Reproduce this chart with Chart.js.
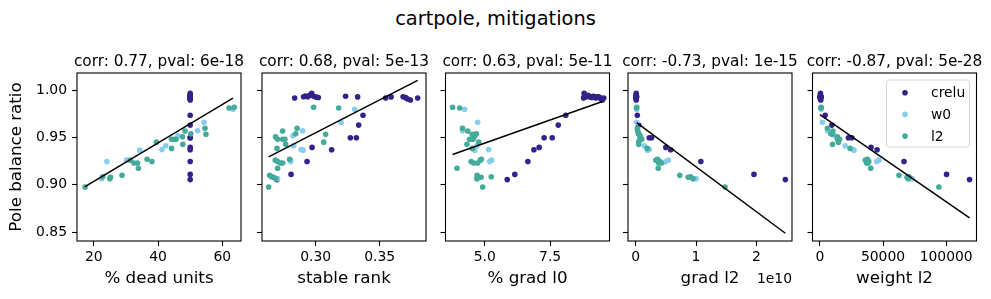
<!DOCTYPE html>
<html>
<head>
<meta charset="utf-8">
<script src="https://cdn.jsdelivr.net/npm/chart.js@4.4.1/dist/chart.umd.min.js"></script>
<style>
  body { margin: 0; background: #fff; }
  #wrap { position: relative; width: 991px; height: 299px; }
  #wrap canvas { position: absolute; left: 0; top: 0; }
  #suptitle {
    position: absolute; left: 0; top: 9px; width: 991px; text-align: center;
    font: 19.4px "DejaVu Sans"; line-height: 20px; color: #000;
  }
</style>
</head>
<body>
<div id="wrap">
  <div id="suptitle">cartpole, mitigations</div>
  <canvas id="p1" width="991" height="299"></canvas>
  <canvas id="p2" width="991" height="299"></canvas>
  <canvas id="p3" width="991" height="299"></canvas>
  <canvas id="p4" width="991" height="299"></canvas>
  <canvas id="p5" width="991" height="299"></canvas>
</div>
<script>
// ---- data ----
// crelu runs (18 near the top, 9 lower)
const creluRatio = [0.9915, 0.9930, 0.9938, 0.9930, 0.9945, 0.9965, 0.9935, 0.9925, 0.9922, 0.9935, 0.9928, 0.9915, 0.9928, 0.9930, 0.9920, 0.9905, 0.9895, 0.9915,
                    0.9734, 0.9630, 0.9497, 0.9497, 0.9395, 0.9370, 0.9246, 0.9110, 0.9055];
const creluDead = [50, 50, 50, 50, 50, 50, 50, 50, 50, 50, 50, 50, 50, 50, 50, 50, 50, 50,
                   50, 50, 50, 50, 50, 50, 50, 50, 50];
const creluRank = [0.2836, 0.2906, 0.2920, 0.2938, 0.2953, 0.2969, 0.2984, 0.3005, 0.3021, 0.3234, 0.3328, 0.3547, 0.3589, 0.3683, 0.3703, 0.3719, 0.3740, 0.3797,
                   0.3370, 0.3336, 0.3271, 0.3318, 0.2972, 0.3125, 0.2933, 0.2808, 0.2698];
const creluGradL0 = [8.78, 8.80, 8.85, 8.90, 8.95, 8.80, 9.00, 9.05, 9.10, 9.15, 9.20, 9.25, 9.30, 9.35, 9.40, 9.45, 9.50, 9.55,
                     8.10, 7.81, 7.27, 7.58, 7.08, 6.88, 6.65, 6.15, 5.86];
const creluGradL2 = [0.010, 0.012, 0.008, 0.010, 0.011, 0.009, 0.010, 0.012, 0.010, 0.011, 0.010, 0.009, 0.012, 0.010, 0.011, 0.010, 0.009, 0.010,
                     0.027, 0.050, 0.225, 0.264, 0.500, 0.580, 1.080, 1.960, 2.480]; // x 1e10
const creluWeightL2 = [300, 500, 400, 600, 350, 450, 700, 550, 300, 650, 400, 500, 800, 350, 600, 450, 700, 500,
                       4190, 9480, 22600, 25300, 40500, 45300, 66600, 100300, 118500];

// w0 runs
const w0Ratio = [0.9798, 0.9660, 0.9570, 0.9518, 0.9412, 0.9373, 0.9366, 0.9260, 0.9245, 0.9065];
const w0Dead = [63.3, 54.3, 52.3, 46.2, 42.4, 41.2, 34.3, 30.2, 24.1, 22.4];
const w0Rank = [0.3305, 0.3198, 0.2898, 0.2823, 0.2828, 0.2886, 0.2902, 0.2802, 0.2805, 0.2703];
const w0GradL0 = [4.23, 4.73, 4.15, 4.62, 4.70, 5.15, 4.62, 5.26, 5.19, 4.71];
const w0GradL2 = [0.016, 0.016, 0.030, 0.070, 0.142, 0.225, 0.200, 0.540, 0.500, 1.000];
const w0WeightL2 = [1000, 2000, 6000, 11800, 20000, 26500, 27000, 46800, 45000, 72900];

// l2 runs
const l2Ratio = [0.9819, 0.9810, 0.9597, 0.9568, 0.9538, 0.9533, 0.9508, 0.9480, 0.9480, 0.9480, 0.9450, 0.9427,
                 0.9384, 0.9270, 0.9260, 0.9245, 0.9230, 0.9230, 0.9175, 0.9100, 0.9085, 0.9080, 0.9065, 0.8977];
const l2Dead = [63.7, 62.1, 54.6, 48.4, 50.2, 54.9, 47.6, 44.2, 45.0, 45.6, 39.5, 47.7,
                44.2, 36.6, 31.4, 38.1, 32.5, 33.6, 33.9, 28.8, 22.8, 25.2, 25.0, 17.3];
const l2Rank = [0.2984, 0.3180, 0.2855, 0.2742, 0.2844, 0.3078, 0.2687, 0.2703, 0.2742, 0.2760, 0.3063, 0.2766,
                0.2698, 0.2797, 0.2685, 0.2703, 0.2724, 0.2742, 0.2703, 0.2641, 0.2656, 0.2672, 0.2687, 0.2633];
const l2GradL0 = [3.77, 4.04, 4.15, 4.35, 4.68, 4.52, 4.60, 4.42, 4.55, 4.50, 4.77, 4.32,
                  4.53, 4.87, 4.83, 4.48, 4.58, 4.73, 3.94, 4.71, 5.25, 4.86, 4.70, 4.92];
const l2GradL2 = [0.016, 0.016, 0.027, 0.035, 0.045, 0.060, 0.080, 0.090, 0.100, 0.070, 0.050, 0.050,
                  0.190, 0.363, 0.335, 0.400, 0.430, 0.380, 0.374, 0.730, 0.910, 0.870, 0.950, 1.480];
const l2WeightL2 = [1000, 800, 6000, 10300, 8700, 9700, 13900, 15500, 14700, 13900, 14700, 10000,
                    23900, 37600, 36000, 38700, 37000, 38000, 40300, 62600, 70500, 69000, 70000, 94200];

// fitted lines (end points as drawn)
const fitDeadX = [17.3, 63.3],    fitDeadY = [0.898, 0.9915];
const fitRankX = [0.2633, 0.3797], fitRankY = [0.9295, 1.0102];
const fitGradL0X = [3.77, 9.5],   fitGradL0Y = [0.932, 0.988];
const fitGradL2X = [0.016, 2.48], fitGradL2Y = [0.9656, 0.8489];
const fitWeightX = [0, 118500],   fitWeightY = [0.974, 0.865];

// axis ticks
const yTicks = [0.85, 0.90, 0.95, 1.00];
const yTickLabels = ['0.85', '0.90', '0.95', '1.00'];
const deadTicks = [20, 40, 60], deadTickLabels = ['20', '40', '60'];
const rankTicks = [0.30, 0.35], rankTickLabels = ['0.30', '0.35'];
const gradL0Ticks = [5.0, 7.5], gradL0TickLabels = ['5.0', '7.5'];
const gradL2Ticks = [0, 1, 2], gradL2TickLabels = ['0', '1', '2'];
const weightTicks = [0, 50000, 100000], weightTickLabels = ['0', '50000', '100000'];

const groupNames = ['crelu', 'w0', 'l2'];
const titles = [
  'corr: 0.77, pval: 6e-18',
  'corr: 0.68, pval: 5e-13',
  'corr: 0.63, pval: 5e-11',
  'corr: -0.73, pval: 1e-15',
  'corr: -0.87, pval: 5e-28'
];

// ---- styling ----
const colors = { crelu: '#332288', w0: '#88CCEE', l2: '#44AA99' };
const FONT = '"DejaVu Sans"';
Chart.defaults.font.family = FONT;
Chart.defaults.color = '#000';

const pts = (xs, ys) => xs.map((x, i) => ({ x: x, y: ys[i] }));

// plot boxes in page pixels
const boxes = [
  { left: 77, right: 241 },
  { left: 262, right: 426 },
  { left: 445.5, right: 609.5 },
  { left: 628, right: 792 },
  { left: 812.5, right: 976.5 }
];
const BOX_TOP = 73, X_AXIS_H = 58;

// frame, panel title, offset text and legend
const panelDecor = {
  id: 'panelDecor',
  afterDraw(chart, args, opts) {
    const { ctx, chartArea: a } = chart;
    ctx.save();
    ctx.strokeStyle = '#000';
    ctx.lineWidth = 1.1;
    ctx.strokeRect(a.left, a.top, a.right - a.left, a.bottom - a.top);

    ctx.fillStyle = '#000';
    ctx.font = '15.3px ' + FONT;
    ctx.textAlign = 'center';
    ctx.textBaseline = 'alphabetic';
    ctx.fillText(opts.title, (a.left + a.right) / 2, a.top - 7);

    if (opts.offsetText) {
      ctx.font = '13.9px ' + FONT;
      ctx.textAlign = 'right';
      ctx.textBaseline = 'middle';
      ctx.fillText(opts.offsetText, a.right, 279);
    }

    if (opts.legend) {
      const w = 83, h = 67;
      const x0 = a.right - 7 - w, y0 = a.top + 7;
      ctx.beginPath();
      ctx.roundRect(x0, y0, w, h, 3);
      ctx.fillStyle = 'rgba(255,255,255,0.8)';
      ctx.fill();
      ctx.strokeStyle = '#d6d6d6';
      ctx.lineWidth = 1;
      ctx.stroke();
      ctx.font = '13.9px ' + FONT;
      ctx.textAlign = 'left';
      ctx.textBaseline = 'middle';
      groupNames.forEach((name, i) => {
        const cy = y0 + 12.7 + i * 21.7;
        ctx.beginPath();
        ctx.arc(x0 + 18.5, cy, 2.8, 0, Math.PI * 2);
        ctx.fillStyle = colors[name];
        ctx.fill();
        ctx.fillStyle = '#000';
        ctx.fillText(name, x0 + 44.5, cy + 1);
      });
    }
    ctx.restore();
  }
};

function scatterSet(name, xs, ys) {
  return {
    label: name,
    data: pts(xs, ys),
    backgroundColor: colors[name],
    borderWidth: 0,
    pointRadius: 2.8
  };
}

function makePanel(i, cfg) {
  const box = boxes[i];
  const yAxisW = i === 0 ? box.left : 10;
  new Chart(document.getElementById('p' + (i + 1)), {
    type: 'scatter',
    data: {
      datasets: [
        {
          label: 'fit',
          data: pts(cfg.fitX, cfg.fitY),
          showLine: true,
          borderColor: '#000',
          borderWidth: 1.5,
          pointRadius: 0
        },
        scatterSet('l2', cfg.l2, l2Ratio),
        scatterSet('w0', cfg.w0, w0Ratio),
        scatterSet('crelu', cfg.crelu, creluRatio)
      ]
    },
    options: {
      responsive: false,
      animation: false,
      devicePixelRatio: 1,
      events: [],
      layout: {
        padding: { top: BOX_TOP, bottom: 0, left: box.left - yAxisW, right: 991 - box.right }
      },
      plugins: {
        legend: { display: false },
        tooltip: { enabled: false },
        panelDecor: { title: titles[i], offsetText: cfg.offsetText, legend: cfg.legend }
      },
      scales: {
        x: {
          type: 'linear',
          min: cfg.xMin,
          max: cfg.xMax,
          border: { display: false },
          grid: { drawOnChartArea: false, drawTicks: true, tickLength: 5, tickColor: '#000', tickWidth: 1.1 },
          ticks: {
            font: { size: 13.9 },
            padding: 3,
            maxRotation: 0,
            callback: v => cfg.tickLabels[cfg.ticks.indexOf(v)]
          },
          afterBuildTicks: s => { s.ticks = cfg.ticks.map(v => ({ value: v })); },
          afterFit: s => { s.height = X_AXIS_H; },
          title: { display: true, text: cfg.xLabel, font: { size: 16.7 }, padding: { top: 0, bottom: 10 } }
        },
        y: {
          type: 'linear',
          min: 0.8407,
          max: 1.018,
          border: { display: false },
          grid: { drawOnChartArea: false, drawTicks: true, tickLength: 5, tickColor: '#000', tickWidth: 1.1 },
          ticks: {
            display: i === 0,
            font: { size: 13.9 },
            padding: 5,
            callback: v => yTickLabels[yTicks.indexOf(v)]
          },
          afterBuildTicks: s => { s.ticks = yTicks.map(v => ({ value: v })); },
          afterFit: s => { s.width = yAxisW; },
          title: { display: i === 0, text: 'Pole balance ratio', font: { size: 16.7 }, padding: { top: 7, bottom: 0 } }
        }
      }
    },
    plugins: [panelDecor]
  });
}

makePanel(0, {
  crelu: creluDead, w0: w0Dead, l2: l2Dead, fitX: fitDeadX, fitY: fitDeadY,
  xMin: 14.8, xMax: 65.8, ticks: deadTicks, tickLabels: deadTickLabels, xLabel: '% dead units'
});
makePanel(1, {
  crelu: creluRank, w0: w0Rank, l2: l2Rank, fitX: fitRankX, fitY: fitRankY,
  xMin: 0.2581, xMax: 0.3862, ticks: rankTicks, tickLabels: rankTickLabels, xLabel: 'stable rank'
});
makePanel(2, {
  crelu: creluGradL0, w0: w0GradL0, l2: l2GradL0, fitX: fitGradL0X, fitY: fitGradL0Y,
  xMin: 3.5, xMax: 9.77, ticks: gradL0Ticks, tickLabels: gradL0TickLabels, xLabel: '% grad l0'
});
makePanel(3, {
  crelu: creluGradL2, w0: w0GradL2, l2: l2GradL2, fitX: fitGradL2X, fitY: fitGradL2Y,
  xMin: -0.127, xMax: 2.59, ticks: gradL2Ticks, tickLabels: gradL2TickLabels, xLabel: 'grad l2',
  offsetText: '1e10'
});
makePanel(4, {
  crelu: creluWeightL2, w0: w0WeightL2, l2: l2WeightL2, fitX: fitWeightX, fitY: fitWeightY,
  xMin: -5850, xMax: 124000, ticks: weightTicks, tickLabels: weightTickLabels, xLabel: 'weight l2',
  legend: true
});
</script>
</body>
</html>
